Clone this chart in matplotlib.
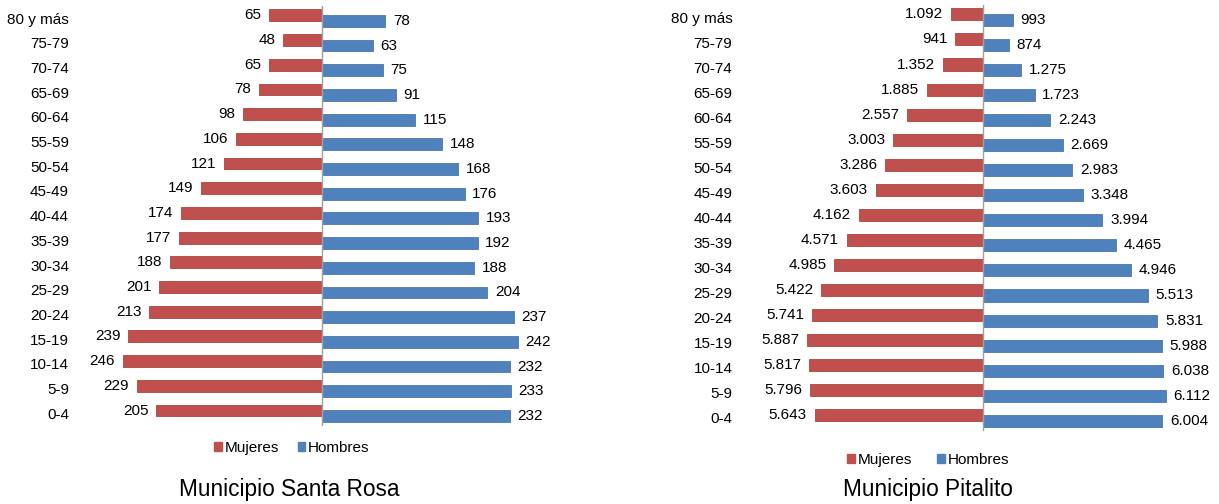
import numpy as np
import matplotlib
matplotlib.use("Agg")
from matplotlib import pyplot as plt
from matplotlib.patches import Patch

plt.rcParams['font.family'] = ['Liberation Sans', 'DejaVu Sans']

### Data (top row first)
ages = ['80 y más', '75-79', '70-74', '65-69', '60-64', '55-59', '50-54', '45-49',
        '40-44', '35-39', '30-34', '25-29', '20-24', '15-19', '10-14', '5-9', '0-4']
srMujeres = [65, 48, 65, 78, 98, 106, 121, 149, 174, 177, 188, 201, 213, 239, 246, 229, 205]
srHombres = [78, 63, 75, 91, 115, 148, 168, 176, 193, 192, 188, 204, 237, 242, 232, 233, 232]
ptMujeres = [1092, 941, 1352, 1885, 2557, 3003, 3286, 3603, 4162, 4571, 4985, 5422,
             5741, 5887, 5817, 5796, 5643]
ptHombres = [993, 874, 1275, 1723, 2243, 2669, 2983, 3348, 3994, 4465, 4946, 5513,
             5831, 5988, 6038, 6112, 6004]

RED = '#C0504D'
BLUE = '#4F81BD'

def miles(v):
    return f'{v:,}'.replace(',', '.')

def pyramid(ax, muj, hom, lim, fmt, pad):
    n = len(ages)
    y = np.arange(n)[::-1]
    off = 0.11
    h = 0.48
    ax.barh(y + off, -np.array(muj), height=h, color=RED, edgecolor='#b04440', lw=0.6)
    ax.barh(y - off, hom, height=h, color=BLUE, edgecolor='#4a78b0', lw=0.6)
    for yi, m, w in zip(y, muj, hom):
        ax.annotate(fmt(m), (-m, yi + off), xytext=(-5.5, 0), textcoords='offset points',
                    ha='right', va='center', fontsize=11)
        ax.annotate(fmt(w), (w, yi - off), xytext=(5.5, 0), textcoords='offset points',
                    ha='left', va='center', fontsize=11)
    ax.set_xlim(-lim, lim)
    ax.set_ylim(-0.5, n - 0.5)
    ax.set_yticks(y)
    ax.set_yticklabels(ages, fontsize=11)
    ax.tick_params(axis='y', length=0, pad=pad)
    ax.set_xticks([])
    for s in ['top', 'right', 'bottom', 'left']:
        ax.spines[s].set_visible(False)
    ax.axvline(0, color='#a0a0a0', lw=1.0)

fig = plt.figure(figsize=(12.19, 5.04), dpi=100)

axL = fig.add_axes([0.0648, 0.1556, 0.3987, 0.833])
pyramid(axL, srMujeres, srHombres, 300, str, 7.2)

axR = fig.add_axes([0.635, 0.1458, 0.343, 0.845])
pyramid(axR, ptMujeres, ptHombres, 7000, miles, 30)

handles = [Patch(color=RED, label='Mujeres'), Patch(color=BLUE, label='Hombres')]
for xc, yc, cs in [(0.2395, 0.111, 1.2), (0.7615, 0.087, 1.6)]:
    fig.legend(handles=handles, loc='center', bbox_to_anchor=(xc, yc), ncol=2,
               frameon=False, fontsize=11, handlelength=0.5, handleheight=0.5,
               handletextpad=0.2, columnspacing=cs)

fig.text(0.2375, 0.028, 'Municipio Santa Rosa', ha='center', va='center', fontsize=16.3)
fig.text(0.7615, 0.028, 'Municipio Pitalito', ha='center', va='center', fontsize=16.3)

fig.savefig('out.png', dpi=100)
